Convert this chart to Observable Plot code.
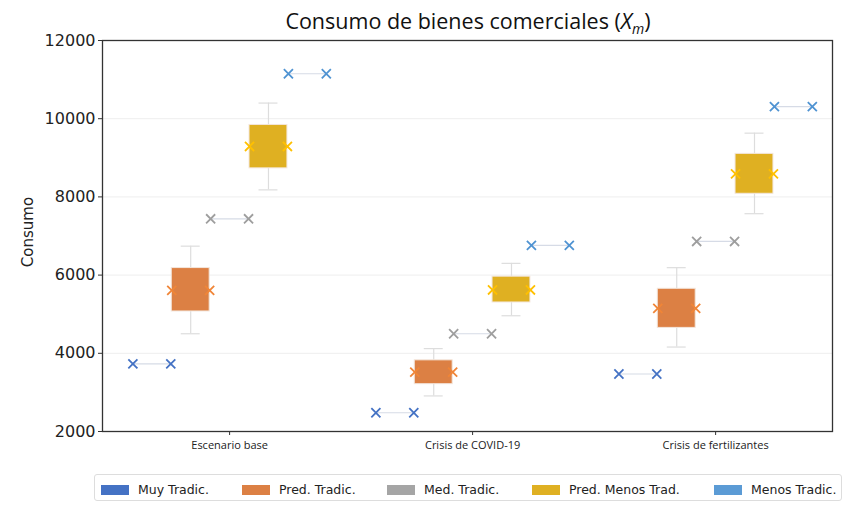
<!DOCTYPE html>
<html>
<head>
<meta charset="utf-8">
<script src="https://cdn.jsdelivr.net/npm/d3@7"></script>
<script src="https://cdn.jsdelivr.net/npm/@observablehq/plot@0.6"></script>
<style>
  body { margin: 0; background: #fff; font-family: "Open Sans", "Noto Sans", sans-serif; }
  #wrap { position: relative; width: 845px; height: 505px; }
  #title { position: absolute; top: 6px; left: 98px; width: 740px; text-align: center;
           font-size: 21.5px; color: #111; line-height: 30px; }
  #title sub { font-size: 14px; }
  #chart { position: absolute; top: 30px; left: 0; }
  #legend { position: absolute; top: 474px; left: 94px; width: 748px; height: 27px;
            border: 1px solid #ddd; border-radius: 3px; box-sizing: border-box;
            font-family: "DejaVu Sans", sans-serif; font-size: 12.5px; color: #222; }
  .item { display: flex; align-items: center; position: absolute; top: 7px; }
  .sw { width: 28px; height: 10px; margin-right: 9px; }
</style>
</head>
<body>
<div id="wrap">
  <div id="title">Consumo de bienes comerciales (<i>X</i><sub><i>m</i></sub>)</div>
  <div id="chart"></div>
  <div id="legend"></div>
</div>
<script>
// Escenarios y tipos de hogar
const escenarios = ["Escenario base", "Crisis de COVID-19", "Crisis de fertilizantes"];
const series = ["Muy Tradic.", "Pred. Tradic.", "Med. Tradic.", "Pred. Menos Trad.", "Menos Tradic."];
const colores = ["#4472C4", "#DC8044", "#A5A5A5", "#DFB022", "#5B9BD5"];
const coloresMarca = ["#4472C4", "#F08537", "#9E9E9E", "#FFC000", "#4F93D2"];

// Series de valor único (consumo por escenario)
const muyTradic = [3730, 2480, 3470];
const medTradic = [7440, 4500, 6860];
const menosTradic = [11150, 6760, 10310];

// Series con distribución: mínimo, cuartiles, mediana y máximo
const predTradicMin = [4500, 2910, 4160];
const predTradicQ1 = [5070, 3210, 4650];
const predTradicMed = [5610, 3520, 5150];
const predTradicQ3 = [6180, 3820, 5650];
const predTradicMax = [6740, 4120, 6190];

const predMenosMin = [8180, 4960, 7570];
const predMenosQ1 = [8730, 5300, 8080];
const predMenosMed = [9290, 5620, 8590];
const predMenosQ3 = [9840, 5960, 9100];
const predMenosMax = [10400, 6300, 9630];

const yTicks = [2000, 4000, 6000, 8000, 10000, 12000];

// Posición de cada serie dentro del grupo del escenario
const paso = 0.16, media = 0.078;
const pos = (g, s) => g + (s - 2) * paso;

const puntos = [];
[[0, muyTradic], [2, medTradic], [4, menosTradic]].forEach(([s, vals]) =>
  vals.forEach((v, g) => puntos.push({s, g, v, x1: pos(g, s) - media, x2: pos(g, s) + media})));

const cajas = [];
[[1, predTradicMin, predTradicQ1, predTradicMed, predTradicQ3, predTradicMax],
 [3, predMenosMin, predMenosQ1, predMenosMed, predMenosQ3, predMenosMax]].forEach(([s, mn, q1, md, q3, mx]) =>
  escenarios.forEach((_, g) => cajas.push({s, g, x: pos(g, s), x1: pos(g, s) - media, x2: pos(g, s) + media,
    min: mn[g], q1: q1[g], med: md[g], q3: q3[g], max: mx[g]})));

const marcas = [
  ...puntos.flatMap(d => [{x: d.x1, v: d.v, s: d.s}, {x: d.x2, v: d.v, s: d.s}]),
  ...cajas.flatMap(d => [{x: d.x1, v: d.med, s: d.s}, {x: d.x2, v: d.med, s: d.s}])
];

const chart = Plot.plot({
  width: 845,
  height: 432,
  marginLeft: 102,
  marginRight: 13,
  marginTop: 10,
  marginBottom: 31,
  style: {fontFamily: "'Open Sans', 'Noto Sans', sans-serif", color: "#222", background: "transparent"},
  x: {domain: [-0.523, 2.481]},
  y: {domain: [2000, 12000]},
  marks: [
    Plot.ruleY(yTicks.slice(1, -1), {stroke: "#eeeeee", strokeWidth: 1}),
    // bigotes
    Plot.ruleX(cajas, {x: "x", y1: "min", y2: "q1", stroke: "#dddddd", strokeWidth: 1.2}),
    Plot.ruleX(cajas, {x: "x", y1: "q3", y2: "max", stroke: "#dddddd", strokeWidth: 1.2}),
    Plot.ruleY(cajas, {y: "min", x1: d => d.x - media / 2, x2: d => d.x + media / 2, stroke: "#dddddd", strokeWidth: 1.2}),
    Plot.ruleY(cajas, {y: "max", x1: d => d.x - media / 2, x2: d => d.x + media / 2, stroke: "#dddddd", strokeWidth: 1.2}),
    // cajas
    Plot.rect(cajas, {x1: "x1", x2: "x2", y1: "q1", y2: "q3", fill: d => colores[d.s], stroke: "#f3e6dc", strokeWidth: 1}),
    // series de valor único
    Plot.ruleY(puntos, {y: "v", x1: "x1", x2: "x2", stroke: "#d6dbe6", strokeWidth: 1.2}),
    Plot.dot(marcas, {x: "x", y: "v", symbol: "times", r: 4.2, stroke: d => coloresMarca[d.s], strokeWidth: 1.8}),
    Plot.axisX({ticks: [0, 1, 2], tickFormat: i => escenarios[i], tickSize: 4, tickPadding: 6, fontSize: 11, label: null, stroke: "#333"}),
    Plot.axisY({ticks: yTicks, tickSize: 4, tickPadding: 3, fontSize: 16, fontFamily: "DejaVu Sans", tickFormat: d => String(d),
      label: null, stroke: "#333"}),
    Plot.text(["Consumo"], {frameAnchor: "left", textAnchor: "middle", dx: -74, dy: -4, rotate: -90, fontSize: 15, fontFamily: "DejaVu Sans", fill: "#222"}),
    Plot.frame({stroke: "#333", strokeWidth: 1.3})
  ]
});
document.getElementById("chart").appendChild(chart);

// Leyenda
const leyenda = document.getElementById("legend");
const xs = [6, 147, 292, 437, 619];
series.forEach((nombre, i) => {
  const it = document.createElement("div");
  it.className = "item";
  it.style.left = xs[i] + "px";
  it.innerHTML = `<span class="sw" style="background:${colores[i]}"></span><span>${nombre}</span>`;
  leyenda.appendChild(it);
});
</script>
</body>
</html>
